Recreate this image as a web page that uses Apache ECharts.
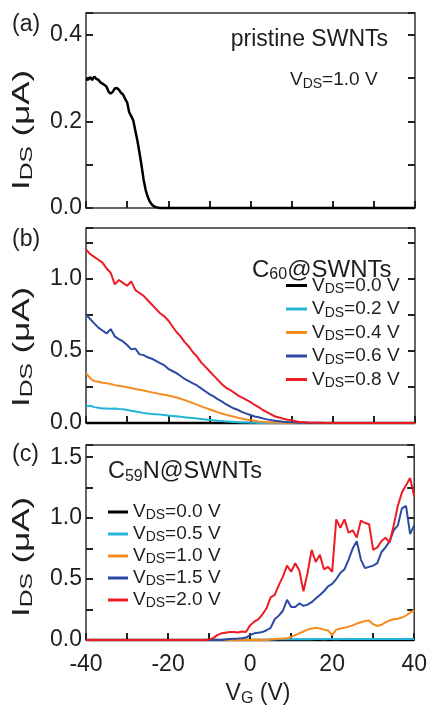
<!DOCTYPE html>
<html>
<head>
<meta charset="utf-8">
<script src="https://cdn.jsdelivr.net/npm/echarts@6/dist/echarts.min.js"></script>
<style>
html,body{margin:0;padding:0;background:#fff;}
#chart{width:430px;height:708px;}
</style>
</head>
<body>
<div id="chart"></div>
<script>
// ---------- DATA ----------
// panel (a): pristine SWNTs, VDS = 1.0 V
var xA = [-40,-39.5,-39,-38.5,-38,-37.5,-37,-36.5,-36,-35.5,-35,-34.5,-34,-33.5,-33,-32.5,-32,-31.5,-31,-30.5,-30,-29.5,-29,-28.5,-28,-27.5,-27,-26.5,-26,-25.5,-25,-24.5,-24,-23.5,-23,-22,-20,-10,0,10,20,30,40];
var iA = [0.298,0.296,0.302,0.295,0.303,0.298,0.296,0.290,0.287,0.284,0.280,0.268,0.264,0.268,0.276,0.277,0.273,0.266,0.262,0.252,0.244,0.221,0.212,0.202,0.178,0.155,0.128,0.098,0.066,0.042,0.026,0.015,0.008,0.004,0.002,0,0,0,0,0,0,0,0];

// gate voltage grid for panels (b) and (c)
var VG = [-40,-39,-38,-37,-36,-35,-34,-33,-32,-31,-30,-29,-28,-27,-26,-25,-24,-23,-22,-21,-20,-19,-18,-17,-16,-15,-14,-13,-12,-11,-10,-9,-8,-7,-6,-5,-4,-3,-2,-1,0,1,2,3,4,5,6,7,8,9,10,11,12,13,14,15,16,17,18,19,20,21,22,23,24,25,26,27,28,29,30,31,32,33,34,35,36,37,38,39,40];

// panel (b): C60@SWNTs
var bLabels = ['0.0','0.2','0.4','0.6','0.8'];
var b00 = [0,0,0,0,0,0,0,0,0,0, 0,0,0,0,0,0,0,0,0,0, 0,0,0,0,0,0,0,0,0,0, 0,0,0,0,0,0,0,0,0,0, 0,0,0,0,0,0,0,0,0,0, 0,0,0,0,0,0,0,0,0,0, 0,0,0,0,0,0,0,0,0,0, 0,0,0,0,0,0,0,0,0,0, 0];
var b02 = [0.115,0.12,0.11,0.105,0.10,0.10,0.098,0.10,0.097,0.095, 0.09,0.085,0.08,0.075,0.07,0.066,0.063,0.06,0.058,0.055, 0.052,0.049,0.046,0.043,0.04,0.037,0.034,0.031,0.028,0.025, 0.022,0.019,0.016,0.013,0.011,0.009,0.007,0.005,0.004,0.003, 0.002,0.001,0,0,0,0,0,0,0,0, 0,0,0,0,0,0,0,0,0,0, 0,0,0,0,0,0,0,0,0,0, 0,0,0,0,0,0,0,0,0,0, 0];
var b04 = [0.345,0.31,0.29,0.285,0.278,0.275,0.27,0.262,0.258,0.252, 0.248,0.242,0.235,0.23,0.225,0.218,0.212,0.207,0.20,0.196, 0.19,0.183,0.176,0.168,0.158,0.148,0.138,0.127,0.115,0.105, 0.095,0.085,0.075,0.066,0.058,0.05,0.043,0.036,0.03,0.024, 0.019,0.015,0.011,0.008,0.006,0.004,0.003,0.002,0.001,0, 0,0,0,0,0,0,0,0,0,0, 0,0,0,0,0,0,0,0,0,0, 0,0,0,0,0,0,0,0,0,0, 0];
var b06 = [0.75,0.72,0.69,0.66,0.64,0.62,0.65,0.60,0.58,0.565, 0.54,0.51,0.515,0.475,0.47,0.455,0.445,0.43,0.415,0.40, 0.375,0.36,0.345,0.325,0.305,0.29,0.275,0.26,0.24,0.22, 0.20,0.185,0.165,0.15,0.13,0.115,0.10,0.09,0.075,0.065, 0.055,0.045,0.04,0.032,0.025,0.02,0.015,0.012,0.008,0.006, 0.005,0.003,0.002,0.001,0,0,0,0,0,0, 0,0,0,0,0,0,0,0,0,0, 0,0,0,0,0,0,0,0,0,0, 0];
var b08 = [1.20,1.17,1.15,1.13,1.11,1.07,1.04,0.96,0.99,0.97, 0.95,0.98,0.92,0.90,0.88,0.85,0.82,0.79,0.76,0.74, 0.71,0.67,0.63,0.60,0.56,0.53,0.49,0.46,0.42,0.39, 0.36,0.33,0.30,0.27,0.245,0.23,0.21,0.19,0.175,0.16, 0.145,0.125,0.11,0.09,0.075,0.06,0.045,0.038,0.03,0.022, 0.02,0.012,0.007,0.005,0.003,0.002,0.001,0.001,0,0, 0,0,0,0,0,0,0,0,0,0, 0,0,0,0,0,0,0,0,0,0, 0];

// panel (c): C59N@SWNTs
var cLabels = ['0.0','0.5','1.0','1.5','2.0'];
var c00 = [0,0,0,0,0,0,0,0,0,0, 0,0,0,0,0,0,0,0,0,0, 0,0,0,0,0,0,0,0,0,0, 0,0,0,0,0,0,0,0,0,0, 0,0,0,0,0,0,0,0,0,0, 0,0,0,0,0,0,0,0,0,0, 0,0,0,0,0,0,0,0,0,0, 0,0,0,0,0,0,0,0,0,0, 0];
var c05 = [0,0,0,0,0,0,0,0,0,0, 0,0,0,0,0,0,0,0,0,0, 0,0,0,0,0,0,0,0,0,0, 0,0,0,0,0,0,0,0,0,0, 0,0,0,0,0,0.004,0.005,0.006,0.006,0.007, 0.006,0.007,0.008,0.007,0.008,0.007,0.008,0.008,0.007,0.008, 0.008,0.007,0.008,0.009,0.008,0.008,0.009,0.008,0.009,0.008, 0.009,0.008,0.009,0.009,0.008,0.009,0.009,0.008,0.009,0.009, 0.008];
var c10 = [0,0,0,0,0,0,0,0,0,0, 0,0,0,0,0,0,0,0,0,0, 0,0,0,0,0,0,0,0,0,0, 0,0,0,0,0,0,0,0,0,0, 0,0,0,0,0,0.005,0.008,0.01,0.012,0.015, 0.025,0.04,0.055,0.07,0.085,0.095,0.10,0.095,0.085,0.078, 0.04,0.085,0.095,0.10,0.11,0.12,0.135,0.145,0.155,0.16, 0.13,0.115,0.125,0.145,0.16,0.17,0.175,0.185,0.20,0.225, 0.245];
var c15 = [0,0,0,0,0,0,0,0,0,0, 0,0,0,0,0,0,0,0,0,0, 0,0,0,0,0,0,0,0,0,0, 0,0,0,0,0.005,0.008,0.01,0.012,0.015,0.02, 0.04,0.055,0.06,0.065,0.08,0.10,0.17,0.20,0.24,0.33, 0.27,0.27,0.30,0.28,0.29,0.31,0.34,0.37,0.40,0.44, 0.46,0.50,0.55,0.58,0.66,0.75,0.81,0.66,0.59,0.60, 0.61,0.63,0.72,0.76,0.81,0.90,0.94,1.08,1.10,0.87, 0.94];
var c20 = [0,0,0,0,0,0,0,0,0,0, 0,0,0,0,0,0,0,0,0,0, 0,0,0,0,0,0,0,0,0,0, 0.005,0.015,0.04,0.055,0.06,0.065,0.065,0.062,0.07,0.066, 0.12,0.15,0.17,0.21,0.26,0.35,0.37,0.45,0.52,0.61, 0.56,0.63,0.57,0.40,0.55,0.74,0.64,0.70,0.58,0.60, 0.56,0.99,0.92,0.99,0.88,0.90,0.84,0.98,0.96,0.95, 0.74,0.76,0.81,0.84,0.80,0.94,1.10,1.21,1.27,1.33, 1.18];

var xTicks = [-40,-20,0,20,40];

// ---------- STYLE ----------
var FONT = 'Liberation Sans';
var TXT = '#1e1e1e';
var COLORS = ['#000000','#22b5d8','#f68b1f','#2c4aa3','#ec1c24'];

function zip(xs, ys){ return xs.map(function(x,i){ return [x, ys[i]]; }); }

var grids = [
  {left:86, top:13, width:329, height:195},
  {left:86, top:228, width:329, height:195},
  {left:86, top:445, width:329, height:195}
].map(function(g){
  return Object.assign({show:true, borderColor:'#333', borderWidth:1.5, backgroundColor:'transparent'}, g);
});

function tick(){ return {show:true, inside:true, length:7, lineStyle:{color:'#222', width:2}}; }
function noLine(){ return {show:false, onZero:false}; }

var xAxes = [0,1,2].map(function(i){
  return {
    gridIndex:i, type:'value', min:-40, max:40, interval:10,
    axisLine:noLine(), axisTick:tick(), splitLine:{show:false},
    axisLabel:{show:i===2, margin:13, fontSize:23, fontFamily:FONT, color:TXT,
      formatter:function(v){ return xTicks.indexOf(v) >= 0 ? String(v) : ''; }}
  };
});

var yDefs = [
  {max:0.45, interval:0.1, labelStep:20},
  {max:1.35, interval:0.25, labelStep:50},
  {max:1.6, interval:0.25, labelStep:50}
];
var yAxes = [];
yDefs.forEach(function(d, i){
  var fmt = function(v){
    var r = Math.round(v*100);
    return (r % d.labelStep === 0) ? v.toFixed(1) : '';
  };
  yAxes.push({gridIndex:i, type:'value', min:0, max:d.max, interval:d.interval,
    axisLine:noLine(), axisTick:tick(), splitLine:{show:false},
    axisLabel:{margin:4, fontSize:23, fontFamily:FONT, color:TXT, formatter:fmt}});
  yAxes.push({gridIndex:i, type:'value', position:'right', min:0, max:d.max, interval:d.interval,
    axisLine:noLine(), axisTick:tick(), splitLine:{show:false}, axisLabel:{show:false}});
});

function mkSeries(name, xs, ys, color, gi, width){
  return {
    name:name, type:'line', xAxisIndex:gi, yAxisIndex:gi*2,
    data:zip(xs, ys), showSymbol:false, symbol:'none', clip:false,
    lineStyle:{color:color, width:width}, itemStyle:{color:color},
    emphasis:{disabled:true}, animation:false
  };
}

var bData = [b00,b02,b04,b06,b08];
var cData = [c00,c05,c10,c15,c20];
var series = [mkSeries('a', xA, iA, '#000', 0, 2.5)];
bData.forEach(function(d,k){ series.push(mkSeries('b'+bLabels[k], VG, d, COLORS[k], 1, k===0?2.5:2)); });
cData.forEach(function(d,k){ series.push(mkSeries('c'+cLabels[k], VG, d, COLORS[k], 2, k===0?2.5:2)); });

function legendFmt(name){ return '{m|V}{s|DS}{m|=' + name.slice(1) + ' V}'; }
function legendRich(lh){
  return {
    m:{fontSize:19, fontFamily:FONT, color:TXT, lineHeight:lh},
    s:{fontSize:14, fontFamily:FONT, color:TXT, lineHeight:8, verticalAlign:'bottom'}
  };
}

var legends = [
  {orient:'vertical', left:286, top:276, itemWidth:21, itemHeight:3, itemGap:3, icon:'rect',
   selectedMode:false, data:bLabels.map(function(l){return 'b'+l;}), formatter:legendFmt,
   textStyle:{rich:legendRich(22)}, padding:0},
  {orient:'vertical', left:108, top:502.5, itemWidth:20, itemHeight:3, itemGap:2, icon:'rect',
   selectedMode:false, data:cLabels.map(function(l){return 'c'+l;}), formatter:legendFmt,
   textStyle:{rich:legendRich(21)}, padding:0}
];

function richSty(mainSize, subSize, lh){
  return {
    m:{fontSize:mainSize, fontFamily:FONT, fill:TXT, lineHeight:lh},
    s:{fontSize:subSize, fontFamily:FONT, fill:TXT, lineHeight:10, verticalAlign:'bottom'}
  };
}
function gText(x, y, text, opts){
  opts = opts || {};
  var el = {type:'text', x:x, y:y, z:100, silent:true,
    rotation:opts.rotation || 0, scaleX:opts.scaleX || 1,
    style:{text:text, fill:TXT, align:opts.align||'left', textAlign:opts.align||'left',
      verticalAlign:'middle', textVerticalAlign:'middle',
      fontSize:opts.size||23, fontFamily:FONT,
      rich:opts.rich}};
  return el;
}

var yTitle = '{m|I}{s|DS}{m| (\u03bcA)}';
var yT = {rich:richSty(24,17,27), align:'center', rotation:Math.PI/2, scaleX:1.45};
var graphics = [
  gText(12, 25, '(a)', {size:23}),
  gText(12, 240, '(b)', {size:23}),
  gText(12, 455, '(c)', {size:23}),
  gText(388, 40, 'pristine SWNTs', {size:23, align:'right'}),
  gText(290, 80, '{m|V}{s|DS}{m|=1.0 V}', {rich:richSty(19,14,22)}),
  gText(252, 270, '{m|C}{s|60}{m|@SWNTs}', {rich:richSty(24,16,26)}),
  gText(108, 472, '{m|C}{s|59}{m|N@SWNTs}', {rich:richSty(23.5,16,26)}),
  gText(22, 130, yTitle, yT),
  gText(22, 347, yTitle, yT),
  gText(22, 557, yTitle, yT),
  gText(258, 694, '{m|V}{s|G}{m| (V)}', {rich:richSty(23,16,26), align:'center'})
];

var chart = echarts.init(document.getElementById('chart'), null, {renderer:'canvas'});
chart.setOption({
  animation:false,
  backgroundColor:'#fff',
  grid:grids,
  xAxis:xAxes,
  yAxis:yAxes,
  legend:legends,
  series:series,
  graphic:{elements:graphics}
});
</script>
</body>
</html>
